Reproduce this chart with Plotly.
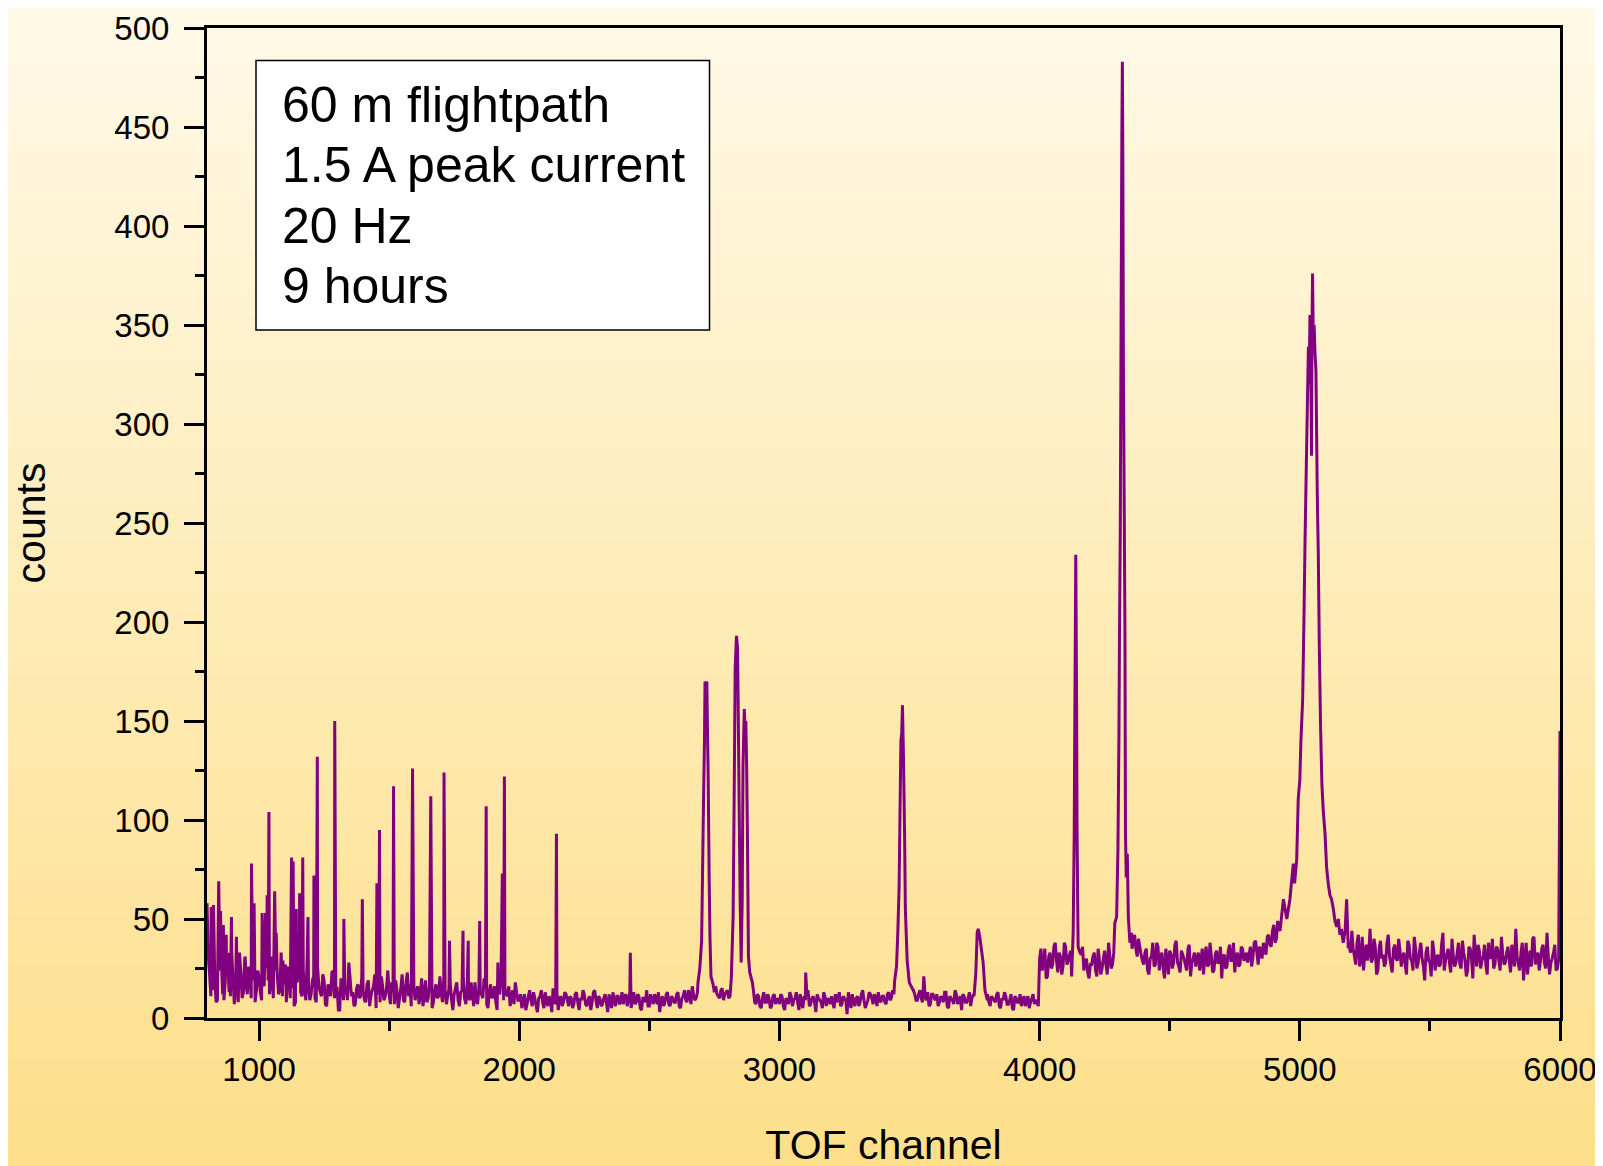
import plotly.graph_objects as go

# ---------------- data ----------------
# noisy background, one value every 10 channels (channels 800, 810, ...)
base_800 = [58, 22, 14, 19, 9, 24, 12, 18, 27, 11, 20, 15, 8, 23, 13, 17, 26, 10, 19, 14,
            21, 9, 16, 25, 12, 18, 7, 22, 14, 11, 19, 26, 10, 15, 8, 20, 13, 24, 9, 17,
            12, 21, 8, 16, 11, 19, 6, 14, 23, 10, 15, 4, 18, 12, 9, 20, 13, 7, 17, 11,
            14, 8, 19, 11, 16, 5, 13, 21, 9, 15, 12, 18, 7, 14, 10, 22, 8, 13, 17, 11,
            9, 16, 12, 6, 19, 10, 14, 8, 17, 11, 13, 20, 7, 15, 9, 12, 18, 6, 14, 10,
            16, 9, 12, 18, 7, 13, 10, 15, 5, 17, 11, 8, 14, 19, 9, 12, 16, 10, 7, 13]
base_2000 = [9, 5, 12, 7, 14, 6, 10, 3, 11, 8, 13, 6, 9, 15, 7, 4, 11, 8, 12, 6,
             10, 7, 13, 4, 9, 12, 6, 11, 8, 14, 5, 10, 7, 12, 3, 9, 13, 6, 11, 8,
             7, 12, 9, 5, 13, 8, 11, 4, 10, 14, 6, 9, 12, 7, 3, 11, 8, 13, 6, 10,
             8, 13, 5, 11, 9, 14, 7, 12, 10, 15, 11, 14, 9, 16, 11, 13, 12, 10, 15, 12,
             14, 11, 16, 12, 15, 13, 10, 17, 12, 9, 14, 7, 11, 5, 13, 8, 10, 6, 12, 9,
             7, 11, 4, 9, 13, 6, 10, 8, 12, 5, 9, 14, 7, 11, 3, 10, 8, 13, 6, 9,
             11, 5, 8, 13, 7, 10, 2, 9, 12, 6, 11, 8, 14, 5, 9, 12, 7, 10, 13, 8,
             11, 7, 13, 10, 12, 15, 11, 14, 12, 16, 13, 10, 12, 9, 14, 8, 11, 13, 7, 12,
             9, 6, 11, 8, 13, 5, 10, 7, 12, 9, 4, 11, 8, 13, 10, 12, 9, 14, 11, 8,
             12, 6, 10, 8, 13, 5, 9, 11, 7, 12, 4, 10, 8, 6, 11, 9, 5, 10, 7, 8]
base_4000 = [30, 24, 35, 21, 33, 27, 38, 23, 31, 26, 36, 29, 34, 38, 33, 37, 32, 24, 30, 20,
             27, 33, 21, 29, 25, 34, 22, 31, 27, 36, 26, 32, 29, 37, 33, 40, 38, 35, 40, 32,
             27, 35, 22, 31, 26, 38, 24, 33, 20, 29, 34, 25, 37, 28, 23, 32, 27, 35, 21, 30,
             26, 33, 29, 22, 36, 27, 31, 24, 34, 28, 20, 32, 26, 37, 29, 23, 33, 27, 35, 30,
             28, 36, 31, 39, 27, 34, 38, 32, 42, 36, 47, 40, 45, 52, 49, 60, 66, 72, 82, 108]
base_5000 = [120, 200, 300, 350, 370, 300, 200, 120, 90, 70, 60, 52, 48, 42, 40, 38, 36, 42, 60, 36,
             44, 31, 38, 26, 41, 33, 29, 45, 30, 36, 24, 39, 32, 28, 42, 27, 35, 30, 40, 26,
             33, 22, 37, 29, 41, 25, 34, 30, 19, 36, 28, 39, 24, 32, 27, 43, 29, 35, 23, 31,
             28, 38, 25, 33, 21, 36, 30, 42, 26, 34, 29, 37, 22, 31, 40, 27, 35, 24, 32, 28,
             36, 23, 30, 45, 27, 33, 19, 38, 29, 26, 41, 31, 24, 35, 28, 43, 22, 30, 37, 25,
             145]
# in-between channels (805, 815, ...)
base_805 = [31, 11, 25, 8, 17, 29, 9, 21, 13, 33, 7, 26, 18, 10, 30, 12, 21, 35, 8, 24,
            13, 28, 7, 19, 31, 10, 24, 12, 33, 17, 8, 21, 29, 6, 18, 27, 11, 14, 30, 9,
            19, 10, 26, 13, 22, 7, 17, 11, 24, 15, 4, 20, 9, 16, 28, 11, 6, 15, 10, 21,
            9, 17, 6, 14, 22, 12, 8, 16, 11, 24, 7, 13, 19, 5, 15, 9, 18, 11, 6, 16,
            14, 7, 20, 11, 8, 16, 5, 13, 10, 21, 8, 14, 11, 17, 4, 15, 9, 13, 20, 7,
            11, 18, 6, 9, 15, 12, 20, 7, 13, 10, 16, 4, 12, 9, 15, 11, 6, 14, 18, 9]
base_2005 = [12, 8, 4, 11, 9, 13, 6, 10, 14, 5, 8, 11, 3, 9, 12, 10, 6, 13, 9, 11,
             5, 12, 8, 10, 14, 7, 9, 4, 13, 9, 11, 6, 10, 8, 12, 5, 9, 11, 7, 13,
             11, 6, 13, 9, 7, 12, 5, 10, 8, 6, 12, 7, 10, 13, 9, 6, 12, 7, 11, 8,
             12, 6, 10, 14, 8, 12, 16, 9, 13, 11, 14, 9, 12, 10, 13, 16, 11, 14, 9, 13,
             10, 15, 9, 13, 11, 14, 12, 9, 15, 11, 8, 12, 6, 10, 8, 12, 5, 11, 7, 10,
             12, 6, 10, 7, 11, 9, 13, 4, 8, 11, 13, 6, 10, 8, 12, 9, 5, 11, 10, 7,
             8, 12, 10, 6, 11, 9, 13, 5, 8, 10, 6, 12, 9, 7, 13, 10, 12, 6, 9, 11,
             8, 12, 9, 14, 10, 13, 9, 11, 16, 10, 12, 14, 9, 12, 10, 13, 9, 6, 12, 10,
             12, 8, 10, 13, 6, 11, 9, 14, 7, 11, 12, 8, 10, 6, 12, 9, 11, 7, 10, 12,
             8, 11, 9, 12, 6, 10, 13, 7, 9, 5, 11, 8, 12, 9, 6, 11, 8, 12, 9, 6]
base_4005 = [35, 28, 20, 31, 25, 36, 29, 33, 22, 38, 27, 32, 39, 30, 35, 29, 36, 28, 23, 27,
             31, 24, 35, 22, 30, 27, 38, 25, 33, 29, 23, 36, 31, 34, 28, 35, 42, 31, 36, 29,
             33, 24, 30, 38, 27, 36, 31, 25, 35, 22, 32, 28, 39, 26, 34, 30, 24, 37, 28, 33,
             30, 24, 35, 31, 26, 38, 23, 32, 28, 36, 31, 25, 34, 29, 38, 31, 26, 36, 29, 33,
             32, 26, 38, 33, 36, 30, 35, 41, 37, 44, 38, 49, 43, 55, 50, 62, 70, 90, 100, 115]
base_5005 = [150, 250, 320, 360, 340, 250, 160, 100, 80, 65, 55, 50, 45, 41, 39, 37, 40, 45, 38, 33,
             35, 27, 42, 30, 24, 37, 33, 28, 40, 22, 35, 30, 26, 38, 31, 23, 37, 29, 34, 31,
             27, 39, 30, 24, 35, 28, 38, 26, 33, 29, 21, 34, 30, 26, 37, 24, 32, 28, 40, 26,
             33, 27, 39, 29, 24, 35, 20, 32, 37, 25, 31, 27, 38, 30, 25, 36, 29, 41, 27, 33,
             29, 37, 26, 31, 24, 38, 30, 22, 34, 40, 27, 33, 29, 37, 25, 31, 28, 33, 24, 30]
base_starts = [800, 2000, 4000, 5000, 805, 2005, 4005, 5005]
base_step = 10

# narrow single-channel lines
spike_channels = [816, 825, 845, 852, 863, 874, 886, 894, 913, 925,
                  947, 971, 981, 1012, 1025, 1031, 1038, 1060, 1066, 1092,
                  1102, 1125, 1131, 1143, 1156, 1168, 1188, 1211, 1224, 1291,
                  1326, 1397, 1453, 1463, 1517, 1570, 1590, 1660, 1711, 1732,
                  1784, 1804, 1848, 1873, 1918, 1935, 1943, 2143, 2427, 3101,
                  3555]
spike_counts = [56, 57, 69, 54, 47, 42, 33, 51, 41, 33,
                31, 78, 58, 53, 53, 62, 104, 64, 43, 29,
                27, 81, 79, 55, 63, 81, 51, 72, 132, 150,
                50, 60, 68, 95, 117, 23, 126, 112, 124, 39,
                44, 39, 49, 107, 28, 73, 122, 93, 33, 23,
                21]

# resolved peaks
peak2715_ch = [2687, 2694, 2701, 2704, 2708, 2712, 2714, 2717, 2721, 2723, 2726, 2730, 2733, 2737, 2745]
peak2715_ct = [18, 25, 39, 68, 107, 140, 170, 162, 170, 150, 124, 71, 41, 21, 17]
peak2835_ch = [2815, 2822, 2826, 2830, 2835, 2839, 2841, 2845, 2849, 2853, 2857, 2860, 2865, 2868,
               2871, 2874, 2877, 2881, 2886, 2896]
peak2835_ct = [20, 51, 110, 177, 193, 187, 164, 110, 60, 28, 60, 127, 156, 145,
               150, 127, 93, 31, 23, 18]
peak3473_ch = [3443, 3450, 3455, 3460, 3464, 3467, 3470, 3473, 3477, 3481, 3484, 3491, 3499, 3514]
peak3473_ct = [19, 26, 43, 66, 110, 140, 144, 158, 130, 93, 55, 29, 18, 14]
peak3764_ch = [3748, 3755, 3760, 3764, 3770, 3777, 3783, 3790, 3799]
peak3764_ct = [11, 23, 43, 45, 41, 34, 28, 14, 9]
peak4139_ch = [4123, 4129, 4133, 4135, 4139, 4142, 4144, 4148, 4155]
peak4139_ct = [21, 43, 93, 144, 234, 161, 93, 36, 33]
peak4318_ch = [4289, 4296, 4301, 4305, 4307, 4310, 4313, 4316, 4318, 4320, 4322, 4325, 4328, 4330,
               4333, 4337, 4341, 4347, 4353]
peak4318_ct = [48, 51, 85, 144, 194, 245, 349, 445, 483, 430, 330, 262, 194, 93,
               71, 83, 51, 38, 43]
peak5050_ch = [4924, 4937, 4950, 4962, 4975, 4980, 4988, 4994, 5000, 5004,
               5011, 5016, 5020, 5024, 5029, 5033, 5036, 5039, 5042, 5045,
               5047, 5049, 5052, 5055, 5058, 5062, 5067, 5071, 5075, 5080,
               5085, 5090, 5097, 5103, 5110, 5116, 5122, 5129, 5135, 5142,
               5148, 5154, 5160, 5167, 5174, 5180, 5186]
peak5050_ct = [44, 60, 50, 60, 78, 68, 80, 111, 120, 139,
               161, 202, 240, 271, 309, 339, 320, 355, 330, 284,
               350, 376, 340, 350, 337, 327, 266, 235, 187, 146,
               118, 105, 93, 76, 67, 62, 60, 55, 49, 46,
               50, 42, 45, 38, 44, 60, 36]

x_ticks = [1000, 2000, 3000, 4000, 5000, 6000]
y_ticks = [0, 50, 100, 150, 200, 250, 300, 350, 400, 450, 500]
info_lines = ["60 m flightpath", "1.5 A peak current", "20 Hz", "9 hours"]

# ---------------- assemble the spectrum ----------------
pts = {}
for start, vals in zip(base_starts, [base_800, base_2000, base_4000, base_5000,
                                     base_805, base_2005, base_4005, base_5005]):
    for i, v in enumerate(vals):
        pts[start + base_step * i] = v
for c, v in zip(spike_channels, spike_counts):
    pts[c] = v
profiles = [(peak2715_ch, peak2715_ct), (peak2835_ch, peak2835_ct), (peak3473_ch, peak3473_ct),
            (peak3764_ch, peak3764_ct), (peak4139_ch, peak4139_ct), (peak4318_ch, peak4318_ct),
            (peak5050_ch, peak5050_ct)]
for chs, cts in profiles:
    lo, hi = min(chs), max(chs)
    for k in [k for k in pts if lo <= k <= hi]:
        del pts[k]
    for c, v in zip(chs, cts):
        pts[c] = v
channels = [c for c in sorted(pts) if c <= 6000]
counts = [pts[c] for c in channels]

# ---------------- figure ----------------
W, H = 1603, 1166
OFF = 8  # page body margin in front of the figure
L, R, T, B = 199, 51, 20, 156
PW, PH = W - L - R, H - T - B
FONT = "Liberation Sans, Arial, sans-serif"


def px_x(px):  # figure pixel -> paper
    return (px - L) / PW


def px_y(py):
    return (H - B - py) / PH


fig = go.Figure()
fig.add_trace(go.Scatter(x=channels, y=counts, mode="lines",
                         line=dict(color="#800080", width=3, simplify=False),
                         showlegend=False, hoverinfo="x+y"))

shapes = []
N = 140
top_c = (255, 249, 232)
bot_c = (253, 223, 138)
for i in range(N):
    y0 = i * H / N
    y1 = (i + 1) * H / N + 1
    f = min(1.0, (y0 + OFF + H / N / 2) / 1166)
    col = tuple(round(top_c[k] + (bot_c[k] - top_c[k]) * f) for k in range(3))
    shapes.append(dict(type="rect", xref="paper", yref="paper", layer="below",
                       x0=px_x(-2), x1=px_x(W + 2), y0=px_y(y1), y1=px_y(y0),
                       fillcolor="rgb(%d,%d,%d)" % col, line=dict(width=0)))
shapes.append(dict(type="rect", xref="paper", yref="paper", layer="above",
                   x0=px_x(248), x1=px_x(701.5), y0=px_y(322), y1=px_y(52.5),
                   fillcolor="white", line=dict(color="black", width=1.5)))

line_tops = [67, 127, 187.5, 248]
annotations = [dict(xref="paper", yref="paper", x=px_x(272), y=px_y(yt),
                    xanchor="left", yanchor="top", align="left", showarrow=False,
                    text=txt, font=dict(family=FONT, size=50, color="black"))
               for txt, yt in zip(info_lines, line_tops)]

fig.update_layout(
    width=W, height=H,
    margin=dict(l=L, r=R, t=T, b=B, autoexpand=False),
    paper_bgcolor="rgba(0,0,0,0)", plot_bgcolor="rgba(0,0,0,0)",
    font=dict(family=FONT, color="black"),
    shapes=shapes,
    annotations=annotations,
    xaxis=dict(range=[800, 6000], tickvals=x_ticks, ticks="outside", ticklen=20, tickwidth=3,
               tickcolor="black", showline=True, linecolor="black", linewidth=3, mirror=True,
               showgrid=False, zeroline=False, tickfont=dict(family=FONT, size=33),
               ticklabelstandoff=0,
               minor=dict(dtick=500, tick0=0, ticks="outside", ticklen=10, tickwidth=3,
                          tickcolor="black", showgrid=False),
               title=dict(text="TOF channel", font=dict(family=FONT, size=41), standoff=44)),
    yaxis=dict(range=[0, 500], tickvals=y_ticks, ticks="outside", ticklen=20, tickwidth=3,
               tickcolor="black", showline=True, linecolor="black", linewidth=3, mirror=True,
               showgrid=False, zeroline=False, tickfont=dict(family=FONT, size=33),
               ticklabelstandoff=8,
               minor=dict(dtick=25, tick0=0, ticks="outside", ticklen=9, tickwidth=2.5,
                          tickcolor="black", showgrid=False),
               title=dict(text="counts", font=dict(family=FONT, size=41), standoff=71)),
)

fig.write_html("out.html")
